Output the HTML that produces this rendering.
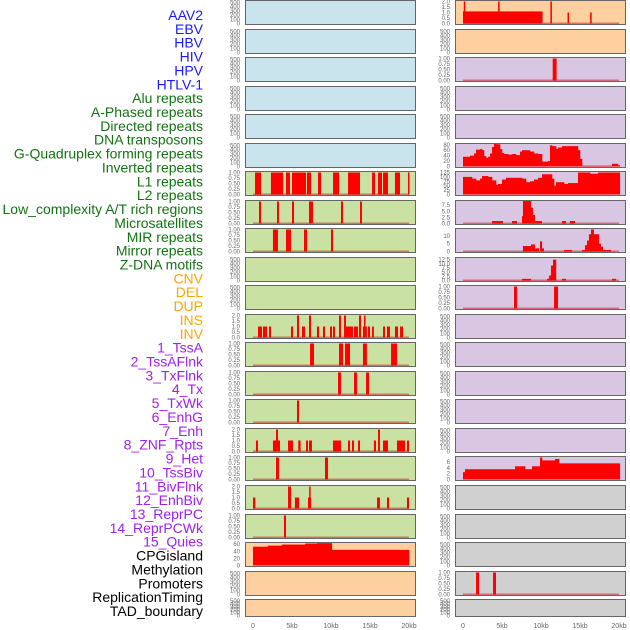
<!DOCTYPE html>
<html><head><meta charset="utf-8"><style>
html,body{margin:0;padding:0;background:#fff;width:630px;height:630px;overflow:hidden}
svg{display:block}
</style></head><body>
<svg id="chart" width="630" height="630" xmlns="http://www.w3.org/2000/svg" font-family="Liberation Sans, sans-serif"></svg>
<script>
// ---- data ----
const trackLabels = ["AAV2","EBV","HBV","HIV","HPV","HTLV-1","Alu repeats","A-Phased repeats","Directed repeats","DNA transposons","G-Quadruplex forming repeats","Inverted repeats","L1 repeats","L2 repeats","Low_complexity A/T rich regions","Microsatellites","MIR repeats","Mirror repeats","Z-DNA motifs","CNV","DEL","DUP","INS","INV","1_TssA","2_TssAFlnk","3_TxFlnk","4_Tx","5_TxWk","6_EnhG","7_Enh","8_ZNF_Rpts","9_Het","10_TssBiv","11_BivFlnk","12_EnhBiv","13_ReprPC","14_ReprPCWk","15_Quies","CPGisland","Methylation","Promoters","ReplicationTiming","TAD_boundary"];
const labelGroups = [6,13,5,15,5]; // blue, green, orange, purple, black
const xTicks = [0,5,10,15,20];
const xTickLabels = ["0","5kb","10kb","15kb","20kb"];

// left bars [startKb, endKb, value]
const L6 = [[0.26,1.03,1],[2.3,3.85,1],[4.23,4.74,1],[5.0,6.8,1],[6.92,7.44,1],[8.33,8.72,1],[10.26,11.03,1],[12.18,13.72,1],[15.26,15.64,1],[16.03,16.54,1],[16.67,17.31,1],[18.2,18.85,1],[19.87,20,1]];
const L7 = [[0.77,1.03,1],[3.08,3.33,1],[5.0,5.26,1],[7.18,7.69,1],[11.28,11.54,1],[13.72,13.97,1]];
const L8 = [[2.56,3.2,1],[4.23,4.87,1],[6.54,6.92,1],[10.0,10.26,1]];
const L11 = [[0.64,1.15,1],[1.28,1.79,1],[2.05,2.31,1],[4.87,5.13,1],[5.64,5.9,2],[6.28,6.67,1],[7.18,7.44,2],[8.2,8.46,1],[8.97,9.23,1],[9.87,10.13,1],[10.26,10.51,1],[11.03,11.28,2],[11.67,11.92,2],[11.92,12.82,1],[12.95,13.46,1],[13.59,13.85,2],[14.1,14.6,1],[14.23,14.4,2],[14.74,15.0,1],[15.26,15.5,1],[16.67,16.92,1],[17.18,17.56,1],[18.2,18.59,1],[18.85,19.23,1]];
const L12 = [[7.31,7.82,1],[11.03,11.54,1],[11.8,12.44,1],[14.1,14.6,1],[17.7,18.46,1]];
const L13 = [[10.9,11.28,1],[12.95,13.33,1],[14.49,14.87,1]];
const L14 = [[5.64,5.9,1]];
const L15 = [[0.38,0.64,1],[2.56,2.95,1],[2.95,3.2,2],[3.2,3.46,1],[4.49,5.13,1],[5.8,6.1,1],[6.8,7.05,1],[7.18,7.56,1],[10.26,11.28,1],[12.18,12.44,1],[12.69,12.95,1],[13.46,13.72,1],[15.5,15.77,1],[16.03,16.28,2],[16.67,17.31,1],[18.46,19.49,1],[19.74,20,1]];
const L16 = [[2.95,3.33,1],[9.23,9.62,1]];
const L17 = [[0,0.3,1],[4.49,4.87,2],[5.38,5.9,1],[7.05,7.44,1],[7.2,7.3,2],[15.9,16.28,1],[17.18,17.44,1],[19.74,20,1]];
const L18 = [[3.97,4.23,1]];
const cpgEdges = [0,1.9,3.7,6.7,8.2,10.1,20];
const cpgVals = [53,56,59,62,63,44];

// right
const R0 = [[0,10.2,1.1],[0.1,0.3,2],[4.5,4.7,2],[11.2,11.4,2],[13.4,13.6,1],[16.3,16.5,1]];
const R2 = [[11.5,12.0,1]];
const g4Edges = [0,0.9,1.41,1.67,2.18,2.44,2.69,2.95,3.21,3.46,3.72,3.97,4.23,4.74,5.0,5.26,5.77,6.28,6.79,7.31,7.56,8.59,9.1,9.62,10.13,10.9,11.15,11.41,11.92,12.18,12.69,14.74,15.0,15.26,19.1,19.87,20.1];
const g4Vals = [36,40,48,62,64,60,38,32,36,48,72,85,82,64,50,46,44,46,42,55,60,55,48,46,18,20,78,75,65,70,75,60,28,3,10,5];
const l1Edges = [0,1.15,1.67,2.18,2.44,3.21,3.72,4.23,4.49,5.0,5.51,7.56,8.08,8.59,9.1,9.62,10.13,11.41,11.67,11.92,12.95,13.46,14.74,16.28,17.31,20.1];
const l1Vals = [100,90,80,90,105,100,80,55,60,85,95,90,70,75,85,95,115,90,50,70,60,65,125,118,125];
const R7 = [[3.72,5.12,1],[6.28,6.92,1],[7.56,7.82,3],[7.69,8.72,9.5],[8.72,8.97,6.5],[8.97,9.23,3.5],[9.23,10.13,1],[12.69,13.2,1],[13.72,14.36,1]];
const R8 = [[7.69,8.72,3.5],[8.72,9.23,4.5],[9.23,9.74,2],[9.87,10.13,6.5],[10.13,10.38,2],[12.95,13.97,1],[15.26,15.64,1],[15.64,15.9,4],[15.9,16.15,7],[16.15,16.41,11],[16.41,16.79,14],[16.79,17.05,11],[17.05,17.44,11],[17.44,17.69,5],[17.69,17.95,3],[17.95,18.97,1]];
const R9 = [[7.56,8.72,1],[10.77,11.03,1],[11.03,11.28,3],[11.28,11.54,9],[11.54,11.95,12.5],[12.69,13.2,1],[19.1,19.62,1]];
const R10 = [[6.54,6.92,1],[11.67,12.18,1]];
const r16Edges = [0,0.26,6.67,7.95,8.85,9.87,10.13,11.79,12.31,20.1];
const r16Vals = [2.5,3.5,4.5,3.5,4.5,7.5,6.5,7,5.5];
const R20 = [[1.67,2.05,1],[3.85,4.23,1]];

const emptyTicks = [0,100,200,300,400,500];
const ticks1 = [0,0.25,0.5,0.75,1];
const ticks2 = [0,0.5,1,1.5,2];

// ---- layout ----
const NS = "http://www.w3.org/2000/svg";
const svg = document.getElementById("chart");
const panelTops = [0,29,57,86,114,143,171,200,228,257,285,314,342,371,399,428,456,485,514,542,571,599];
const colX = [245,455];
const panelW = 171;
const x0 = [253,463];
const pxPerKb = 7.8;
function xScale(side, kb){ return x0[side] + kb*pxPerKb; }
function ph(r){ return r===21 ? 18 : 25; }
function yScale(r, v, ytop){
  const t = panelTops[r]+1.5, b = panelTops[r]+ph(r)-1.5;
  return b - (v/ytop)*(b-t);
}
function el(tag, attrs){ const e=document.createElementNS(NS,tag); for(const k in attrs) e.setAttribute(k,attrs[k]); return e; }

const bgL = r => r<6?"#c9e4ec":(r<19?"#c9e2a3":"#ffd09f");
const bgR = r => r<2?"#ffd09f":(r<17?"#d9c6e2":"#d0d0d0");

function fmt(v, dec){ return v.toFixed(dec); }

function drawPanel(side, r, cfg){
  const g = el("g",{});
  
  
  svg.appendChild(g);
  const top = panelTops[r], h = ph(r);
  const bg = el("rect",{x:colX[side],y:top,width:panelW,height:h,fill:side?bgR(r):bgL(r)});
  
  
  g.appendChild(bg);
  const ytop = cfg.ytop;
  const clip = el("clipPath",{id:"c"+side+"_"+r});
  clip.appendChild(el("rect",{x:colX[side],y:top,width:panelW,height:h}));
  g.appendChild(clip);
  const marks = el("g",{"clip-path":"url(#c"+side+"_"+r+")"});
  g.appendChild(marks);
  if(cfg.baseline){
    const y0 = yScale(r,0,ytop);
    const bl = el("line",{x1:xScale(side,0),x2:xScale(side,20),y1:y0,y2:y0,stroke:"rgba(200,0,0,0.45)","stroke-width":2});
    
    
    marks.appendChild(bl);
  }
  if(cfg.bars){
    cfg.bars.forEach(b=>{
      const xa = xScale(side,b[0]), xb = xScale(side,b[1]);
      const ya = yScale(r,b[2],ytop), yb = yScale(r,0,ytop);
      const rc = el("rect",{x:xa,y:ya,width:Math.max(1.5,xb-xa),height:yb-ya,fill:"#ff0000"});
      
      
      marks.appendChild(rc);
    });
  }
  if(cfg.edges){
    for(let i=0;i<cfg.vals.length;i++){
      const xa = xScale(side,cfg.edges[i]), xb = xScale(side,cfg.edges[i+1]);
      const ya = yScale(r,cfg.vals[i],ytop), yb = yScale(r,0,ytop);
      const rc = el("rect",{x:xa,y:ya,width:xb-xa+0.3,height:yb-ya,fill:"#ff0000"});
      
      
      marks.appendChild(rc);
    }
  }
  const border = el("rect",{x:colX[side]+0.5,y:top+0.5,width:panelW-1,height:h-1,fill:"none",stroke:"#666","stroke-width":1});
  
  
  g.appendChild(border);
  cfg.ticks.forEach(t=>{
    const tx = el("text",{x:colX[side]-5,y:yScale(r,t,ytop)+2,"font-size":6,fill:"#666","text-anchor":"end"});
    tx.textContent = fmt(t,cfg.dec||0);
    
    
    g.appendChild(tx);
  });
}

const leftCfg = {};
const rightCfg = {};
for(let r=0;r<22;r++){ leftCfg[r]={ticks:emptyTicks,ytop:520}; rightCfg[r]={ticks:emptyTicks,ytop:520}; }
const b1 = (d)=>({bars:d,ticks:ticks1,ytop:1.0,dec:2,baseline:true});
const b2 = (d)=>({bars:d,ticks:ticks2,ytop:2.0,dec:1,baseline:true});
leftCfg[6]=b1(L6); leftCfg[7]=b1(L7); leftCfg[8]=b1(L8);
leftCfg[11]=b2(L11); leftCfg[12]=b1(L12); leftCfg[13]=b1(L13); leftCfg[14]=b1(L14);
leftCfg[15]=b2(L15); leftCfg[16]=b1(L16); leftCfg[17]=b2(L17); leftCfg[18]=b1(L18);
leftCfg[19]={edges:cpgEdges,vals:cpgVals,ticks:[0,20,40,60],ytop:62};
rightCfg[0]=b2(R0);
rightCfg[2]=b1(R2);
rightCfg[5]={edges:g4Edges,vals:g4Vals,ticks:[0,20,40,60,80],ytop:81};
rightCfg[6]={edges:l1Edges,vals:l1Vals,ticks:[0,25,50,75,100,125],ytop:125};
rightCfg[7]={bars:R7,ticks:[0,2.5,5,7.5],dec:1,ytop:9.0,baseline:true};
rightCfg[8]={bars:R8,ticks:[0,5,10],ytop:14,baseline:true};
rightCfg[9]={bars:R9,ticks:[0,2.5,5,7.5,10,12.5],dec:1,ytop:13.2,baseline:true};
rightCfg[10]=b1(R10);
rightCfg[16]={edges:r16Edges,vals:r16Vals,ticks:[0,2,4,6],ytop:7.5};
rightCfg[20]=b1(R20);

for(let r=0;r<22;r++){ drawPanel(0,r,leftCfg[r]); drawPanel(1,r,rightCfg[r]); }

// x axis
[0,1].forEach(side=>{
  xTicks.forEach((t,i)=>{
    const tx = el("text",{x:xScale(side,t),y:628,"font-size":7,fill:"#666","text-anchor":"middle"});
    tx.textContent = xTickLabels[i];
    
    
    svg.appendChild(tx);
  });
});

// labels
const groupColors = ["#1a1aff","#137313","#ffa500","#a020f0","#000000"];
let idx=0;
const spacing = (611-15)/(trackLabels.length-1);
labelGroups.forEach((n,gi)=>{
  for(let k=0;k<n;k++){
    const tx = el("text",{x:203,y:15+idx*spacing+5,"font-size":14,fill:groupColors[gi],"text-anchor":"end"});
    tx.textContent = trackLabels[idx];
    
    
    svg.appendChild(tx);
    idx++;
  }
});
</script>
</body></html>
